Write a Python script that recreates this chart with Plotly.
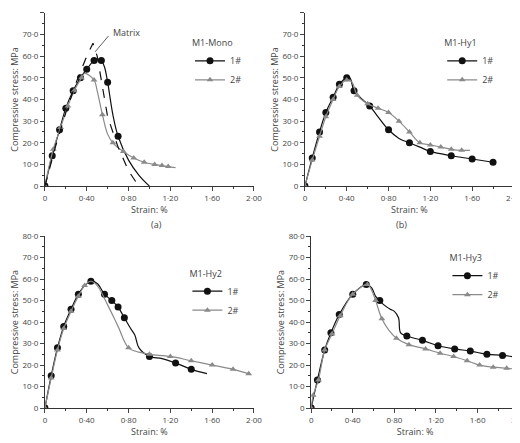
import plotly.graph_objects as go

# ---- data ----
# (a) M1-Mono
a1_x = [0, 0.07, 0.14, 0.2, 0.27, 0.34, 0.4, 0.47, 0.5, 0.54, 0.57, 0.6, 0.65, 0.7, 0.8, 0.9, 1.0]
a1_y = [0, 14, 26, 36, 44, 50, 54, 58, 58.5, 58, 55, 48, 33, 23, 12, 5, 0]
a1_mx = [0, 0.07, 0.14, 0.2, 0.27, 0.34, 0.4, 0.47, 0.54, 0.6, 0.7]
a1_my = [0, 14, 26, 36, 44, 50, 54, 58, 58, 48, 23]
a2_x = [0, 0.08, 0.15, 0.22, 0.28, 0.35, 0.38, 0.47, 0.5, 0.55, 0.6, 0.65, 0.75, 0.85, 0.95, 1.05, 1.12, 1.18, 1.25]
a2_y = [0, 17, 27, 37, 44, 50, 52, 49, 44, 33, 24, 20, 16, 13, 11, 10, 9.5, 9, 8.5]
a2_mx = [0, 0.08, 0.15, 0.22, 0.28, 0.35, 0.47, 0.55, 0.65, 0.75, 0.85, 0.95, 1.05, 1.12, 1.18]
a2_my = [0, 17, 27, 37, 44, 50, 49, 33, 20, 16, 13, 11, 10, 9.5, 9]
mat_x = [0, 0.1, 0.2, 0.3, 0.4, 0.46, 0.5, 0.55, 0.6, 0.7, 0.8, 0.87, 0.92]
mat_y = [0, 18, 34, 48, 60, 66, 60, 45, 32, 18, 7, 2, 0]

# (b) M1-Hy1
b1_x = [0, 0.07, 0.14, 0.2, 0.27, 0.33, 0.4, 0.43, 0.47, 0.55, 0.62, 0.7, 0.8, 0.9, 1.0, 1.1, 1.2, 1.4, 1.6, 1.8]
b1_y = [0, 13, 25, 34, 41, 47, 50, 50, 44, 40, 37, 32, 26, 22, 20, 18, 16, 14, 12.5, 11]
b1_mx = [0, 0.07, 0.14, 0.2, 0.27, 0.33, 0.4, 0.47, 0.62, 0.8, 1.0, 1.2, 1.4, 1.6, 1.8]
b1_my = [0, 13, 25, 34, 41, 47, 50, 44, 37, 26, 20, 16, 14, 12.5, 11]
b2_x = [0, 0.07, 0.14, 0.2, 0.27, 0.33, 0.4, 0.45, 0.5, 0.6, 0.7, 0.8, 0.9, 1.0, 1.1, 1.2, 1.3, 1.4, 1.5, 1.58]
b2_y = [0, 12, 23, 32, 40, 46, 49, 48, 42, 38, 36, 34, 30, 25, 20, 19, 18, 17, 16.5, 16.5]
b2_mx = [0, 0.07, 0.14, 0.2, 0.27, 0.33, 0.4, 0.5, 0.6, 0.7, 0.8, 0.9, 1.0, 1.1, 1.2, 1.3, 1.4, 1.5]
b2_my = [0, 12, 23, 32, 40, 46, 49, 42, 38, 36, 34, 30, 25, 20, 19, 18, 17, 16.5]

# (c) M1-Hy2
c1_x = [0, 0.06, 0.12, 0.18, 0.25, 0.32, 0.38, 0.44, 0.5, 0.57, 0.64, 0.7, 0.76, 0.82, 0.86, 0.9, 1.0, 1.12, 1.25, 1.4, 1.55]
c1_y = [0, 15, 28, 38, 46, 53, 57, 59, 58, 53, 50, 47, 42, 37, 34, 28, 24, 23, 21, 18, 16]
c1_mx = [0, 0.06, 0.12, 0.18, 0.25, 0.32, 0.44, 0.57, 0.64, 0.7, 0.76, 1.0, 1.25, 1.4]
c1_my = [0, 15, 28, 38, 46, 53, 59, 53, 50, 47, 42, 24, 21, 18]
c2_x = [0, 0.06, 0.12, 0.18, 0.25, 0.32, 0.38, 0.44, 0.5, 0.6, 0.7, 0.8, 0.9, 1.0, 1.2, 1.4, 1.6, 1.8, 1.95]
c2_y = [0, 14, 27, 37, 45, 52, 57, 59, 57, 48, 38, 28, 26, 25, 24, 22, 20, 18, 16]
c2_mx = [0, 0.06, 0.12, 0.18, 0.25, 0.32, 0.38, 0.8, 1.0, 1.2, 1.4, 1.6, 1.8, 1.95]
c2_my = [0, 14, 27, 37, 45, 52, 57, 28, 25, 24, 22, 20, 18, 16]

# (d) M1-Hy3
d1_x = [0, 0.06, 0.13, 0.19, 0.27, 0.4, 0.53, 0.58, 0.62, 0.66, 0.7, 0.76, 0.8, 0.84, 0.86, 0.92, 1.07, 1.22, 1.38, 1.53, 1.69, 1.84, 2.0]
d1_y = [0, 13, 27, 35, 43.5, 53, 57.5, 56, 52, 50, 48, 46, 45, 42, 35, 33.5, 31.5, 29, 27.5, 26.5, 25, 24.5, 23.5]
d1_mx = [0, 0.06, 0.13, 0.19, 0.27, 0.4, 0.53, 0.66, 0.92, 1.07, 1.22, 1.38, 1.53, 1.69, 1.84]
d1_my = [0, 13, 27, 35, 43.5, 53, 57.5, 50, 33.5, 31.5, 29, 27.5, 26.5, 25, 24.5]
d2_x = [0, 0.02, 0.07, 0.13, 0.2, 0.28, 0.4, 0.54, 0.58, 0.62, 0.68, 0.75, 0.82, 0.94, 1.1, 1.24, 1.37, 1.5, 1.62, 1.75, 1.88, 2.0]
d2_y = [0, 6, 13, 27, 34.5, 43, 53, 57.5, 55, 50, 41.5, 36, 32.5, 29.5, 27.5, 25.5, 24, 22, 20, 19, 18.5, 18]
d2_mx = [0, 0.02, 0.07, 0.13, 0.2, 0.28, 0.4, 0.54, 0.62, 0.68, 0.82, 0.94, 1.1, 1.24, 1.37, 1.5, 1.62, 1.75, 1.88]
d2_my = [0, 6, 13, 27, 34.5, 43, 53, 57.5, 50, 41.5, 32.5, 29.5, 27.5, 25.5, 24, 22, 20, 19, 18.5]

x_ticks = [0, 0.4, 0.8, 1.2, 1.6, 2.0]
x_labels = ["0", "0·40", "0·80", "1·20", "1·60", "2·00"]
y_ticks = [0, 10, 20, 30, 40, 50, 60, 70, 80]
y_labels = ["0", "10·0", "20·0", "30·0", "40·0", "50·0", "60·0", "70·0", "80·0"]

panels = [
    ("M1-Mono", "(a)", [0.071, 0.473], [0.598, 0.989],
     (a1_x, a1_y, a1_mx, a1_my), (a2_x, a2_y, a2_mx, a2_my)),
    ("M1-Hy1", "(b)", [0.571, 0.973], [0.598, 0.989],
     (b1_x, b1_y, b1_mx, b1_my), (b2_x, b2_y, b2_mx, b2_my)),
    ("M1-Hy2", "(c)", [0.071, 0.473], [0.097, 0.485],
     (c1_x, c1_y, c1_mx, c1_my), (c2_x, c2_y, c2_mx, c2_my)),
    ("M1-Hy3", "(d)", [0.583, 0.983], [0.097, 0.485],
     (d1_x, d1_y, d1_mx, d1_my), (d2_x, d2_y, d2_mx, d2_my)),
]

BLACK = "#111111"
GREY = "#8a8a8a"
FONT = {"family": "Open Sans, Arial, sans-serif", "size": 9, "color": "#444"}

fig = go.Figure()
layout = {}
legend_pos = [(0.35, 0.94), (0.835, 0.94), (0.345, 0.42), (0.845, 0.455)]

for i, (name, cap, xd, yd, s1, s2) in enumerate(panels):
    n = "" if i == 0 else str(i + 1)
    xa, ya = "x" + n, "y" + n
    leg = "legend" + n
    for (lx, ly, mx, my), col, sym, size, lab in [
        (s1, BLACK, "circle", 7, "1#"),
        (s2, GREY, "triangle-up", 6, "2#"),
    ]:
        fig.add_trace(go.Scatter(x=lx, y=ly, mode="lines", line=dict(color=col, width=1.2),
                                 xaxis=xa, yaxis=ya, showlegend=False, line_shape="spline"))
        fig.add_trace(go.Scatter(x=mx, y=my, mode="markers", marker=dict(color=col, symbol=sym, size=size),
                                 xaxis=xa, yaxis=ya, showlegend=False))
        fig.add_trace(go.Scatter(x=[None], y=[None], mode="lines+markers", name=lab,
                                 line=dict(color=col, width=1.2),
                                 marker=dict(color=col, symbol=sym, size=size),
                                 xaxis=xa, yaxis=ya, legend=leg))
    lx_, ly_ = legend_pos[i]
    layout[leg] = dict(x=lx_, y=ly_, xanchor="left", yanchor="top", bgcolor="rgba(0,0,0,0)",
                       title=dict(text=name, font=dict(size=9)), font=FONT, itemwidth=30,
                       tracegroupgap=0)
    layout["xaxis" + n] = dict(domain=xd, anchor=ya, range=[0, 2.0], tickvals=x_ticks, ticktext=x_labels,
                               ticks="outside", ticklen=4, showline=True, linecolor="#333",
                               showgrid=False, zeroline=False, automargin=False,
                               title=dict(text="Strain: %", standoff=4),
                               minor=dict(ticks="outside", ticklen=2, dtick=0.2, tickcolor="#333"))
    layout["yaxis" + n] = dict(domain=yd, anchor=xa, range=[0, 80], tickvals=y_ticks, ticktext=y_labels,
                               ticks="outside", ticklen=4, showline=True, linecolor="#333",
                               showgrid=False, zeroline=False, automargin=False,
                               title=dict(text="Compressive stress: MPa", standoff=2),
                               minor=dict(ticks="outside", ticklen=2, dtick=5, tickcolor="#333"))
    fig.add_annotation(text=cap, x=(xd[0] + xd[1]) / 2, y=yd[0] - 0.086, xref="paper", yref="paper",
                       yanchor="middle", showarrow=False, font=FONT)

fig.add_trace(go.Scatter(x=mat_x, y=mat_y, mode="lines", line=dict(color=BLACK, width=1.2, dash="dash"),
                         showlegend=False))
fig.add_annotation(x=0.48, y=62, ax=0.62, ay=70, xref="x", yref="y", axref="x", ayref="y",
                   text="", showarrow=True, arrowhead=0, arrowwidth=0.8, arrowcolor="#333")
fig.add_annotation(x=0.63, y=71, xref="x", yref="y", text="Matrix", showarrow=False,
                   xanchor="left", font=FONT)

fig.update_layout(width=520, height=443, margin=dict(l=0, r=0, t=0, b=0),
                  plot_bgcolor="white", paper_bgcolor="white", font=FONT, **layout)
fig.update_xaxes(title_font=dict(size=9), tickfont=dict(size=8))
fig.update_yaxes(title_font=dict(size=9), tickfont=dict(size=8))

fig.write_html("out.html")
